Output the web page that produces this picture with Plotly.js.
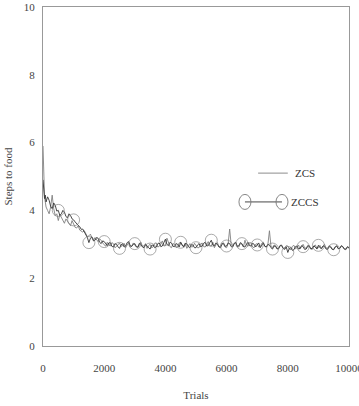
<!DOCTYPE html>
<html>
<head>
<meta charset="utf-8">
<script src="https://cdn.plot.ly/plotly-3.0.1.min.js"></script>
<style>html,body{margin:0;padding:0;background:#fff;}#chart{width:359px;height:406px;}</style>
</head>
<body>
<div id="chart"></div>
<script>
// Trials (x values)
const trials = [0,25,50,75,
100,150,200,250,300,350,400,450,500,550,600,650,700,750,800,850,900,950,
1000,1050,1100,1150,1200,1250,1300,1350,1400,1450,1500,1550,1600,1650,1700,1750,1800,1850,1900,1950,
2000,2050,2100,2150,2200,2250,2300,2350,2400,2450,2500,2550,2600,2650,2700,2750,2800,2850,2900,2950,
3000,3050,3100,3150,3200,3250,3300,3350,3400,3450,3500,3550,3600,3650,3700,3750,3800,3850,3900,3950,
4000,4050,4100,4150,4200,4250,4300,4350,4400,4450,4500,4550,4600,4650,4700,4750,4800,4850,4900,4950,
5000,5050,5100,5150,5200,5250,5300,5350,5400,5450,5500,5550,5600,5650,5700,5750,5800,5850,5900,5950,
6000,6050,6100,6150,6200,6250,6300,6350,6400,6450,6500,6550,6600,6650,6700,6750,6800,6850,6900,6950,
7000,7050,7100,7150,7200,7250,7300,7350,7400,7450,7500,7550,7600,7650,7700,7750,7800,7850,7900,7950,
8000,8050,8100,8150,8200,8250,8300,8350,8400,8450,8500,8550,8600,8650,8700,8750,8800,8850,8900,8950,
9000,9050,9100,9150,9200,9250,9300,9350,9400,9450,9500,9550,9600,9650,9700,9750,9800,9850,9900,9950,
10000];

// ZCS: steps to food
const zcs = [5.9,4.8,4.4,4.25,
4.1,4.0,3.9,4.1,4.45,4.05,3.85,3.9,3.7,3.88,3.8,3.7,3.62,3.75,3.68,3.58,3.55,3.7,
3.6,3.5,3.48,3.55,3.42,3.38,3.36,3.4,3.3,3.22,3.25,3.3,3.18,3.12,3.2,3.14,3.08,3.16,3.12,3.04,
3.0,2.94,3.06,2.98,2.95,3.05,3.02,2.9,2.93,3.0,3.04,2.94,2.96,3.03,2.9,2.98,3.05,2.92,2.94,3.04,
2.98,2.92,2.9,3.0,3.06,2.94,2.95,3.02,2.88,2.96,3.0,2.9,2.92,3.03,3.04,2.92,2.94,3.02,3.1,2.95,
2.96,3.18,3.05,2.93,2.9,3.02,3.0,2.9,2.92,3.04,3.06,2.96,2.95,3.04,2.88,2.97,3.02,2.92,2.93,3.03,
2.97,2.9,2.9,3.0,3.04,2.93,2.92,3.02,3.08,2.96,2.95,3.06,2.9,2.98,3.05,2.93,2.94,3.04,3.0,2.92,
2.9,3.02,3.45,2.98,2.95,3.04,3.06,2.93,2.92,3.02,3.0,2.92,3.12,2.98,2.94,3.05,3.04,2.92,2.9,3.0,
3.02,2.92,2.93,3.03,3.06,2.94,2.92,3.0,3.4,2.94,2.9,2.98,2.96,2.88,2.86,2.97,2.98,2.87,2.88,2.96,
2.95,2.86,2.84,2.94,2.97,2.87,2.9,2.98,2.86,2.93,3.0,2.9,2.88,2.97,2.94,2.86,2.85,2.95,2.98,2.88,
2.9,2.97,2.86,2.94,3.0,2.89,2.88,2.96,2.94,2.86,2.85,2.93,2.96,2.87,2.88,2.95,2.92,2.85,2.84,2.92,
2.88];

// ZCCS: steps to food
const zccs = [4.9,4.5,4.35,4.45,
4.25,4.4,4.3,4.12,4.05,4.22,4.15,3.98,4.0,3.85,3.9,4.0,3.95,3.82,3.78,3.9,3.85,3.75,
3.72,3.66,3.6,3.56,3.52,3.44,3.45,3.36,3.3,3.2,3.05,3.18,3.22,3.1,3.12,3.2,3.18,3.06,3.02,3.1,
3.08,3.0,2.96,3.04,3.05,2.94,2.92,3.02,3.0,2.93,2.88,2.98,3.02,2.92,2.95,3.05,3.08,2.96,2.94,3.0,
3.02,2.93,2.92,3.03,3.0,2.92,2.9,2.99,2.96,2.9,2.86,2.97,2.98,2.9,2.92,3.02,3.04,2.93,2.95,3.05,
3.15,3.0,2.96,3.06,3.04,2.94,2.93,3.02,3.0,2.92,3.06,2.98,2.92,3.02,3.02,2.93,2.9,2.99,2.98,2.9,
2.9,2.98,3.02,2.93,2.94,3.03,3.06,2.95,2.96,3.05,3.12,2.98,2.95,3.04,3.0,2.92,2.9,3.0,3.04,2.94,
2.95,3.04,3.02,2.93,2.92,3.02,3.05,2.94,2.96,3.05,3.02,2.93,2.92,3.0,3.06,2.96,2.95,3.03,3.0,2.92,
2.98,3.04,2.9,2.98,3.04,2.94,2.92,3.0,2.98,2.9,2.86,2.95,2.94,2.86,2.88,2.96,2.96,2.88,2.85,2.92,
2.76,2.88,2.9,2.82,2.84,2.93,2.95,2.86,2.88,2.96,2.93,2.85,2.86,2.94,2.96,2.87,2.88,2.95,2.92,2.86,
2.97,2.9,2.88,2.95,2.94,2.86,2.85,2.93,2.92,2.85,2.84,2.92,2.95,2.87,2.88,2.96,2.93,2.86,2.86,2.93,
2.9];

const seriesNames = ['ZCS', 'ZCCS'];
const xTicks = [0, 2000, 4000, 6000, 8000, 10000];
const yTicks = [0, 2, 4, 6, 8, 10];

// circle markers on ZCCS every 500 trials (not at 0 or 10000)
const markerSizes = trials.map(t => (t > 0 && t < 10000 && t % 500 === 0) ? 12 : 0);

const font = 'Liberation Serif, Times New Roman, serif';

const traces = [
  {x: trials, y: zcs, name: seriesNames[0], mode: 'lines',
   line: {color: '#808080', width: 0.9}, showlegend: false, hoverinfo: 'skip'},
  {x: trials, y: zccs, name: seriesNames[1], mode: 'lines+markers',
   line: {color: '#333', width: 0.9},
   marker: {symbol: 'circle-open', size: markerSizes, color: '#777', line: {width: 0.9, color: '#777'}},
   showlegend: false, hoverinfo: 'skip'}
];

// manual legend (Excel style: circle-line-circle)
const lx = {zcs0: 0.703, zcs1: 0.80, zcsy: 0.51, zccs0: 0.66, zccs1: 0.781, zccsy: 0.425};
const shapes = [
  {type: 'line', xref: 'paper', yref: 'paper', x0: lx.zcs0, x1: lx.zcs1, y0: lx.zcsy, y1: lx.zcsy,
   line: {color: '#808080', width: 0.9}},
  {type: 'line', xref: 'paper', yref: 'paper', x0: lx.zccs0, x1: lx.zccs1, y0: lx.zccsy, y1: lx.zccsy,
   line: {color: '#333', width: 0.9}},
  {type: 'circle', xref: 'paper', yref: 'paper', xsizemode: 'pixel', ysizemode: 'pixel',
   xanchor: lx.zccs0, yanchor: lx.zccsy, x0: -6, x1: 6, y0: -7.5, y1: 7.5, line: {color: '#777', width: 0.9}},
  {type: 'circle', xref: 'paper', yref: 'paper', xsizemode: 'pixel', ysizemode: 'pixel',
   xanchor: lx.zccs1, yanchor: lx.zccsy, x0: -6, x1: 6, y0: -7.5, y1: 7.5, line: {color: '#777', width: 0.9}}
];
const annotations = [
  {xref: 'paper', yref: 'paper', x: 0.817, y: lx.zcsy, text: seriesNames[0], showarrow: false,
   xanchor: 'left', yanchor: 'middle', font: {family: font, size: 11, color: '#333'}},
  {xref: 'paper', yref: 'paper', x: 0.804, y: lx.zccsy, text: seriesNames[1], showarrow: false,
   xanchor: 'left', yanchor: 'middle', font: {family: font, size: 11, color: '#333'}}
];

const layout = {
  width: 359, height: 406,
  margin: {l: 43, r: 10, t: 7, b: 60},
  paper_bgcolor: '#fff', plot_bgcolor: '#fff',
  font: {family: font, size: 11, color: '#444'},
  showlegend: false,
  xaxis: {
    range: [0, 10000], tickvals: xTicks, ticktext: xTicks.map(String),
    showgrid: false, zeroline: false, showline: true, mirror: true,
    linecolor: '#999', linewidth: 1,
    ticks: 'outside', ticklen: 12, tickcolor: 'rgba(0,0,0,0)',
    ticklabeloverflow: 'allow',
    title: {text: 'Trials', standoff: 18, font: {family: font, size: 11, color: '#444'}}
  },
  yaxis: {
    range: [0, 10], tickvals: yTicks, ticktext: yTicks.map(String),
    showgrid: false, zeroline: false, showline: true, mirror: true,
    linecolor: '#999', linewidth: 1,
    ticks: 'outside', ticklen: 5, tickcolor: 'rgba(0,0,0,0)',
    title: {text: 'Steps to food', standoff: 8, font: {family: font, size: 11, color: '#444'}}
  },
  shapes: shapes,
  annotations: annotations
};

Plotly.newPlot('chart', traces, layout, {displayModeBar: false, staticPlot: true});
</script>
</body>
</html>
